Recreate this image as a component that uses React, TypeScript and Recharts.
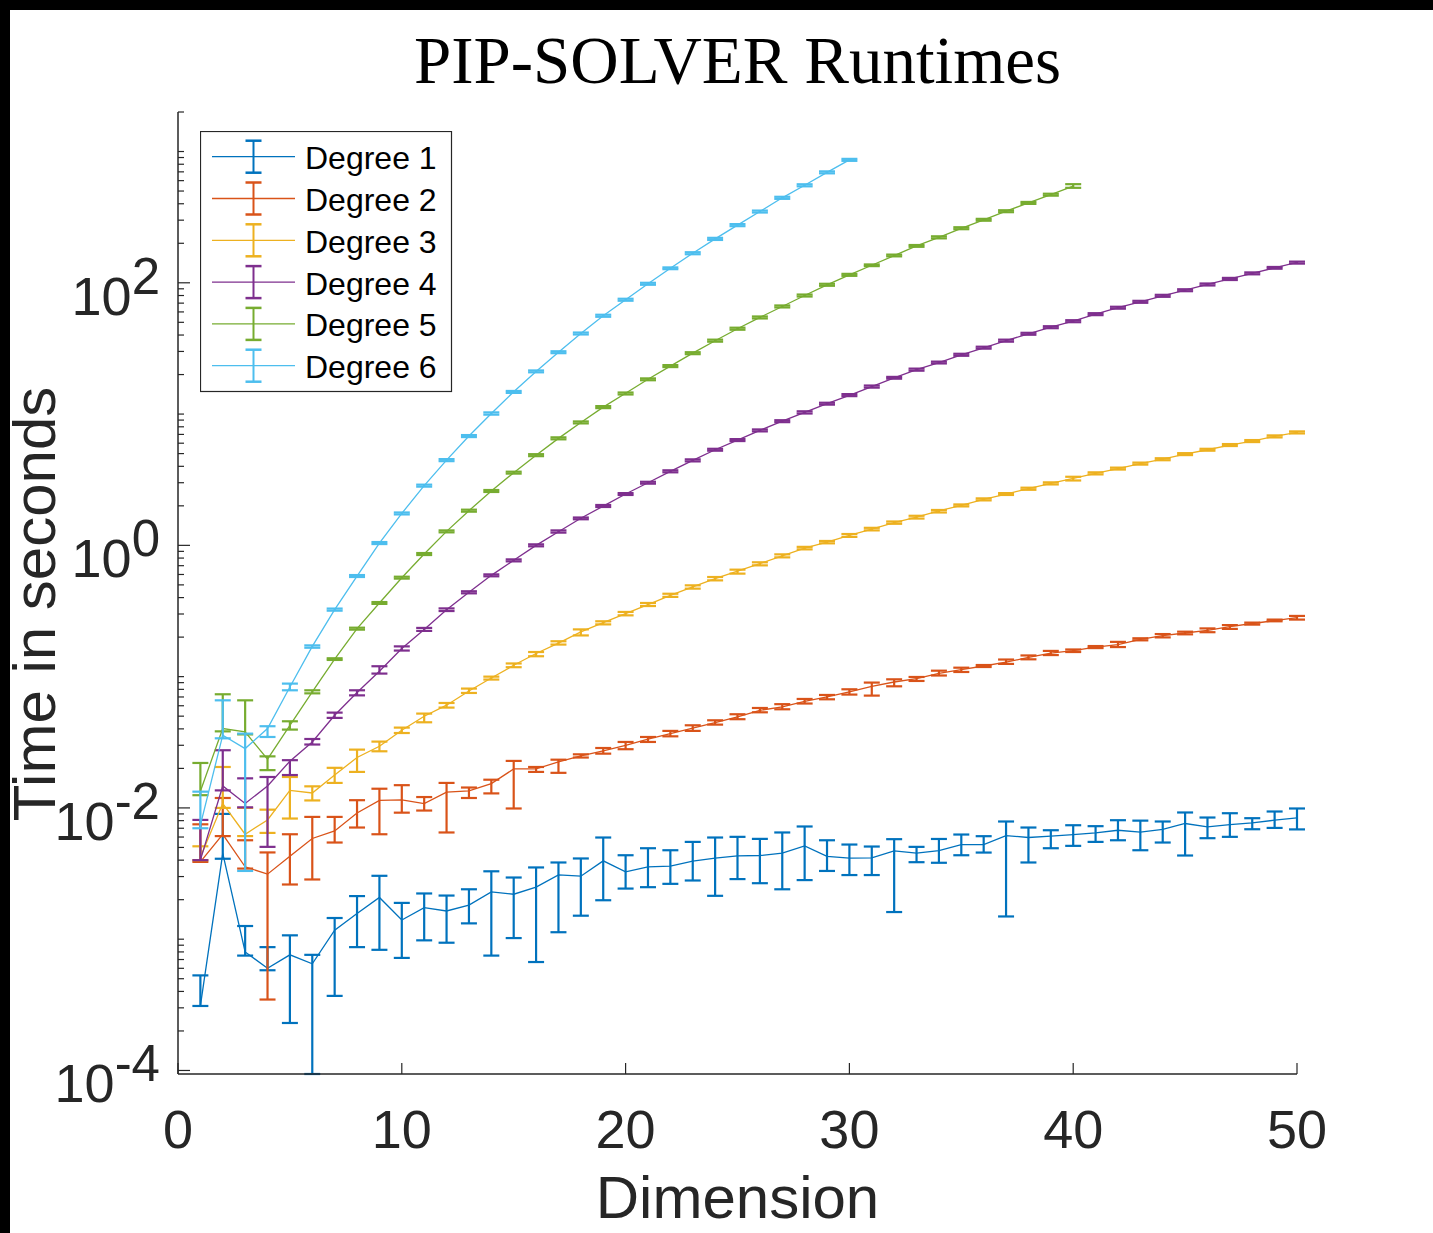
import { LineChart, Line, XAxis, YAxis, ErrorBar, Legend, Customized } from 'recharts'

// dimensions 1..50
const dims = Array.from({ length: 50 }, (_, i) => i + 1)

// runtimes in seconds (mean, lower end, upper end of each bar)
const deg1Mean = [3.1e-4, 4.5e-3, 8.0e-4, 6.0e-4, 7.6e-4, 6.5e-4, 1.17e-3, 1.57e-3, 2.08e-3, 1.40e-3,
  1.74e-3, 1.64e-3, 1.82e-3, 2.29e-3, 2.20e-3, 2.49e-3, 3.09e-3, 3.02e-3, 3.95e-3, 3.26e-3,
  3.56e-3, 3.60e-3, 3.93e-3, 4.14e-3, 4.31e-3, 4.34e-3, 4.52e-3, 5.14e-3, 4.27e-3, 4.14e-3,
  4.16e-3, 4.70e-3, 4.52e-3, 4.72e-3, 5.26e-3, 5.26e-3, 6.16e-3, 5.95e-3, 6.09e-3, 6.27e-3,
  6.45e-3, 6.76e-3, 6.53e-3, 6.85e-3, 7.61e-3, 7.17e-3, 7.47e-3, 7.69e-3, 8.06e-3, 8.39e-3]
const deg1Lo = [3.1e-4, 4.1e-3, 7.5e-4, 5.8e-4, 2.3e-4, 9.4e-5, 3.7e-4, 8.7e-4, 8.3e-4, 7.2e-4,
  9.8e-4, 9.4e-4, 1.32e-3, 7.5e-4, 1.02e-3, 6.7e-4, 1.13e-3, 1.51e-3, 1.98e-3, 2.43e-3,
  2.49e-3, 2.64e-3, 2.80e-3, 2.14e-3, 2.87e-3, 2.67e-3, 2.40e-3, 2.82e-3, 3.31e-3, 3.08e-3,
  3.08e-3, 1.61e-3, 3.86e-3, 3.82e-3, 4.36e-3, 4.57e-3, 1.49e-3, 3.84e-3, 4.93e-3, 5.14e-3,
  5.51e-3, 5.67e-3, 4.76e-3, 5.45e-3, 4.34e-3, 5.88e-3, 6.02e-3, 6.88e-3, 7.04e-3, 6.86e-3]
const deg1Hi = [5.3e-4, 9.0e-3, 1.26e-3, 8.7e-4, 1.07e-3, 7.6e-4, 1.45e-3, 2.13e-3, 3.04e-3, 1.89e-3,
  2.23e-3, 2.15e-3, 2.40e-3, 3.29e-3, 2.95e-3, 3.52e-3, 3.84e-3, 4.12e-3, 5.95e-3, 4.36e-3,
  4.93e-3, 4.76e-3, 5.51e-3, 5.95e-3, 6.02e-3, 5.81e-3, 6.50e-3, 7.22e-3, 5.67e-3, 5.26e-3,
  5.08e-3, 5.78e-3, 5.05e-3, 5.80e-3, 6.27e-3, 6.09e-3, 7.88e-3, 7.09e-3, 6.76e-3, 7.38e-3,
  7.26e-3, 8.06e-3, 8.0e-3, 7.88e-3, 9.23e-3, 8.45e-3, 9.11e-3, 8.35e-3, 9.39e-3, 9.9e-3]

const deg2Mean = [3.88e-3, 6.3e-3, 3.56e-3, 3.13e-3, 4.29e-3, 5.85e-3, 6.68e-3, 9.16e-3, 1.14e-2, 1.15e-2,
  1.08e-2, 1.32e-2, 1.35e-2, 1.53e-2, 1.98e-2, 1.98e-2, 2.24e-2, 2.49e-2, 2.72e-2, 3.00e-2,
  3.34e-2, 3.68e-2, 4.06e-2, 4.47e-2, 4.93e-2, 5.54e-2, 5.88e-2, 6.49e-2, 7.00e-2, 7.64e-2,
  8.44e-2, 9.10e-2, 9.66e-2, 0.106, 0.113, 0.1205, 0.129, 0.140, 0.151, 0.158,
  0.168, 0.175, 0.1925, 0.205, 0.215, 0.225, 0.240, 0.254, 0.267, 0.282]
const deg2Lo = [3.88e-3, 6.1e-3, 3.45e-3, 3.47e-4, 2.61e-3, 2.85e-3, 5.45e-3, 7.09e-3, 6.3e-3, 9.2e-3,
  9.55e-3, 6.5e-3, 1.19e-2, 1.29e-2, 9.9e-3, 1.88e-2, 1.85e-2, 2.42e-2, 2.59e-2, 2.80e-2,
  3.18e-2, 3.51e-2, 3.86e-2, 4.31e-2, 4.74e-2, 5.35e-2, 5.64e-2, 6.24e-2, 6.72e-2, 7.30e-2,
  7.17e-2, 8.44e-2, 9.27e-2, 0.102, 0.1085, 0.1184, 0.125, 0.1355, 0.146, 0.154,
  0.165, 0.168, 0.189, 0.199, 0.210, 0.218, 0.231, 0.249, 0.264, 0.272]
const deg2Hi = [7.5e-3, 1.19e-2, 5.67e-3, 4.58e-3, 6.3e-3, 8.54e-3, 8.54e-3, 1.145e-2, 1.40e-2, 1.49e-2,
  1.21e-2, 1.55e-2, 1.43e-2, 1.64e-2, 2.28e-2, 2.05e-2, 2.33e-2, 2.56e-2, 2.86e-2, 3.18e-2,
  3.47e-2, 3.86e-2, 4.26e-2, 4.65e-2, 5.17e-2, 5.77e-2, 6.17e-2, 6.76e-2, 7.25e-2, 8.01e-2,
  9.01e-2, 9.54e-2, 9.94e-2, 0.111, 0.117, 0.1226, 0.135, 0.145, 0.157, 0.161,
  0.171, 0.184, 0.196, 0.211, 0.220, 0.233, 0.247, 0.258, 0.272, 0.290]

const deg3Mean = [4.2e-3, 1.08e-2, 6.3e-3, 8.1e-3, 1.36e-2, 1.30e-2, 1.78e-2, 2.42e-2, 2.95e-2, 3.90e-2,
  4.99e-2, 6.06e-2, 7.78e-2, 9.77e-2, 0.122, 0.150, 0.180, 0.219, 0.258, 0.302,
  0.354, 0.416, 0.482, 0.558, 0.637, 0.726, 0.832, 0.954, 1.06, 1.19,
  1.33, 1.49, 1.64, 1.83, 2.02, 2.24, 2.46, 2.70, 2.97, 3.24,
  3.54, 3.84, 4.19, 4.53, 4.95, 5.35, 5.81, 6.23, 6.76, 7.25]
const deg3Lo = [4.0e-3, 1.0e-2, 6.1e-3, 6.45e-3, 8.3e-3, 1.14e-2, 1.55e-2, 1.88e-2, 2.70e-2, 3.72e-2,
  4.49e-2, 5.81e-2, 7.51e-2, 9.5e-2, 0.118, 0.143, 0.1755, 0.206, 0.250, 0.293,
  0.345, 0.405, 0.468, 0.541, 0.609, 0.704, 0.810, 0.932, 1.036, 1.16,
  1.30, 1.46, 1.60, 1.78, 1.98, 2.20, 2.42, 2.65, 2.91, 3.12,
  3.47, 3.78, 4.12, 4.45, 4.87, 5.26, 5.71, 6.12, 6.64, 7.12]
const deg3Hi = [5.1e-3, 2.05e-2, 1.0e-2, 9.7e-3, 1.72e-2, 1.46e-2, 2.02e-2, 2.78e-2, 3.20e-2, 4.09e-2,
  5.23e-2, 6.30e-2, 8.11e-2, 0.100, 0.126, 0.154, 0.186, 0.229, 0.264, 0.311,
  0.364, 0.428, 0.496, 0.574, 0.653, 0.743, 0.854, 0.974, 1.08, 1.22,
  1.36, 1.52, 1.68, 1.86, 2.05, 2.28, 2.50, 2.75, 3.02, 3.33,
  3.60, 3.91, 4.27, 4.61, 5.04, 5.44, 5.91, 6.34, 6.88, 7.38]

const deg4Mean = [4.0e-3, 1.47e-2, 1.08e-2, 1.47e-2, 2.27e-2, 3.18e-2, 5.08e-2, 7.56e-2, 0.110, 0.164,
  0.229, 0.323, 0.439, 0.591, 0.769, 1.0, 1.27, 1.61, 1.99, 2.46,
  3.00, 3.66, 4.44, 5.35, 6.34, 7.51, 8.83, 10.3, 12.0, 13.9,
  16.2, 18.9, 21.8, 24.7, 28.3, 32.0, 36.2, 40.9, 45.9, 51.0,
  57.7, 64.6, 71.6, 79.6, 87.8, 97.1, 107, 118, 130, 143]
const deg4Lo = [4.0e-3, 1.36e-2, 1.01e-2, 5.05e-3, 1.78e-2, 3.04e-2, 4.85e-2, 7.2e-2, 0.1055, 0.158,
  0.223, 0.316, 0.431, 0.581, 0.755, 0.983, 1.25, 1.58, 1.96, 2.42,
  2.95, 3.60, 4.36, 5.26, 6.23, 7.38, 8.68, 10.1, 11.8, 13.7,
  15.9, 18.6, 21.4, 24.3, 27.8, 31.5, 35.6, 40.2, 45.1, 50.1,
  56.7, 63.5, 70.4, 78.2, 86.3, 95.4, 105, 116, 128, 140]
const deg4Hi = [8.1e-3, 2.75e-2, 1.68e-2, 1.72e-2, 2.31e-2, 3.35e-2, 5.32e-2, 7.87e-2, 0.120, 0.170,
  0.235, 0.331, 0.447, 0.601, 0.782, 1.018, 1.30, 1.63, 2.03, 2.50,
  3.05, 3.73, 4.52, 5.44, 6.45, 7.64, 8.98, 10.5, 12.2, 14.2,
  16.5, 19.2, 22.2, 25.1, 28.8, 32.6, 36.9, 41.6, 46.7, 51.9,
  58.7, 65.7, 72.9, 81.0, 89.3, 98.8, 109, 120, 132, 145]

const deg5Mean = [1.34e-2, 4.02e-2, 3.79e-2, 2.35e-2, 4.26e-2, 7.64e-2, 0.136, 0.232, 0.364, 0.567,
  0.859, 1.278, 1.837, 2.59, 3.58, 4.86, 6.53, 8.64, 11.3, 14.4,
  18.4, 23.2, 29.1, 36.2, 44.7, 54.5, 66.0, 80.0, 96.5, 115,
  136, 161, 191, 222, 260, 302, 351, 406, 469, 546]
const deg5Lo = [1.25e-2, 3.83e-2, 3.63e-2, 1.94e-2, 3.95e-2, 7.46e-2, 0.134, 0.228, 0.358, 0.558,
  0.844, 1.256, 1.805, 2.55, 3.52, 4.78, 6.42, 8.49, 11.1, 14.1,
  18.1, 22.8, 28.6, 35.6, 43.9, 53.5, 64.9, 78.6, 94.9, 113,
  134, 159, 188, 218, 256, 297, 345, 399, 461, 529]
const deg5Hi = [2.20e-2, 7.34e-2, 6.6e-2, 2.47e-2, 4.57e-2, 7.87e-2, 0.138, 0.236, 0.370, 0.577,
  0.874, 1.30, 1.87, 2.64, 3.64, 4.95, 6.65, 8.79, 11.5, 14.6,
  18.7, 23.6, 29.6, 36.9, 45.5, 55.4, 67.2, 81.4, 98.3, 117,
  138, 164, 194, 226, 265, 307, 357, 413, 477, 564]

const deg6Mean = [7.4e-3, 3.58e-2, 2.83e-2, 4.02e-2, 8.34e-2, 0.170, 0.324, 0.584, 1.041, 1.752,
  2.85, 4.46, 6.80, 10.1, 14.8, 21.1, 29.6, 41.1, 56.1, 74.3,
  98.3, 129, 168, 216, 275, 349, 444, 553, 694, 864]
const deg6Lo = [7.0e-3, 3.39e-2, 3.31e-3, 3.47e-2, 7.87e-2, 0.166, 0.318, 0.574, 1.023, 1.72,
  2.80, 4.38, 6.68, 9.9, 14.5, 20.8, 29.1, 40.4, 55.1, 73.0,
  96.6, 127, 165, 212, 270, 343, 436, 543, 682, 849]
const deg6Hi = [1.33e-2, 6.6e-2, 3.68e-2, 4.19e-2, 8.85e-2, 0.173, 0.330, 0.594, 1.06, 1.78,
  2.90, 4.54, 6.92, 10.3, 15.0, 21.5, 30.1, 41.8, 57.1, 75.6,
  100, 131, 171, 220, 280, 355, 452, 563, 706, 879]

const xTicks = [0, 10, 20, 30, 40, 50]
const yMajor = [1e-4, 1e-2, 1, 100]
const yMajorExp = ['-4', '-2', '0', '2']
const yOddDecades = [1e-3, 0.1, 10, 1000]
const decades = [1e-4, 1e-3, 1e-2, 0.1, 1, 10, 100, 1000]
const minorSteps = [2, 3, 4, 5, 6, 7, 8, 9]

const series = [
  { name: 'Degree 1', color: '#0072BD', mean: deg1Mean, lo: deg1Lo, hi: deg1Hi },
  { name: 'Degree 2', color: '#D95319', mean: deg2Mean, lo: deg2Lo, hi: deg2Hi },
  { name: 'Degree 3', color: '#EDB120', mean: deg3Mean, lo: deg3Lo, hi: deg3Hi },
  { name: 'Degree 4', color: '#7E2F8E', mean: deg4Mean, lo: deg4Lo, hi: deg4Hi },
  { name: 'Degree 5', color: '#77AC30', mean: deg5Mean, lo: deg5Lo, hi: deg5Hi },
  { name: 'Degree 6', color: '#4DBEEE', mean: deg6Mean, lo: deg6Lo, hi: deg6Hi },
]

const rows = dims.map((x, i) => {
  const row: any = { x }
  series.forEach((s, k) => {
    if (i < s.mean.length) {
      row[`m${k}`] = s.mean[i]
      row[`e${k}`] = [s.mean[i] - s.lo[i], s.hi[i] - s.mean[i]]
    }
  })
  return row
})

const yMinor = decades.flatMap(d => minorSteps.map(m => d * m)).filter(v => v <= 2000)
const yTicks = [...yMajor, ...yOddDecades, ...yMinor]

const W = 1433
const H = 1233
const PLOT_LEFT = 178
const PLOT_RIGHT = 1297
const PLOT_TOP = 112
const PLOT_BOTTOM = 1074
const AXIS = '#262626'
const SANS = '"Liberation Sans", Arial, Helvetica, sans-serif'
const SERIF = '"Liberation Serif", "Times New Roman", serif'

const YTick = ({ y, payload }: any) => {
  const idx = yMajor.indexOf(payload.value)
  const major = idx >= 0
  return (
    <g>
      <line x1={PLOT_LEFT} x2={PLOT_LEFT + (major ? 12 : 6)} y1={y} y2={y} stroke={AXIS} strokeWidth={1.2} />
      {major && (
        <text x={160} y={y + 32} textAnchor="end" fill={AXIS} fontSize={54} fontFamily={SANS}>
          10<tspan dy={-21} fontSize={51}>{yMajorExp[idx]}</tspan>
        </text>
      )}
    </g>
  )
}

const XTick = ({ x, payload }: any) => (
  <g>
    <line x1={x} x2={x} y1={PLOT_BOTTOM} y2={PLOT_BOTTOM - 11} stroke={AXIS} strokeWidth={1.2} />
    <text x={x} y={1148} textAnchor="middle" fill={AXIS} fontSize={54} fontFamily={SANS}>
      {payload.value}
    </text>
  </g>
)

const Texts = () => (
  <g>
    <text x={(PLOT_LEFT + PLOT_RIGHT) / 2} y={83} textAnchor="middle" fill="#000" fontSize={67} fontFamily={SERIF}>
      PIP-SOLVER Runtimes
    </text>
    <text x={(PLOT_LEFT + PLOT_RIGHT) / 2} y={1218} textAnchor="middle" fill={AXIS} fontSize={60} fontFamily={SANS}>
      Dimension
    </text>
    <text x={55} y={604} transform="rotate(-90 55 604)" textAnchor="middle" fill={AXIS} fontSize={60} fontFamily={SANS}>
      Time in seconds
    </text>
  </g>
)

const LegendBox = () => (
  <svg width={253} height={262} style={{ display: 'block' }}>
    <rect x={0.5} y={0.5} width={251} height={260} fill="#fff" stroke={AXIS} strokeWidth={1.2} />
    {series.map((s, k) => {
      const cy = 25.7 + k * 41.8
      return (
        <g key={s.name}>
          <line x1={12} x2={95} y1={cy} y2={cy} stroke={s.color} strokeWidth={1.3} />
          <line x1={53.5} x2={53.5} y1={cy - 16} y2={cy + 16} stroke={s.color} strokeWidth={2} />
          <line x1={45.5} x2={61.5} y1={cy - 16} y2={cy - 16} stroke={s.color} strokeWidth={2.5} />
          <line x1={45.5} x2={61.5} y1={cy + 16} y2={cy + 16} stroke={s.color} strokeWidth={2.5} />
          <text x={105} y={cy + 12.5} fill="#000" fontSize={32} fontFamily={SANS}>{s.name}</text>
        </g>
      )
    })}
  </svg>
)

export default function App() {
  return (
    <div style={{ position: 'absolute', left: 0, top: 0, width: W, height: H, background: '#fff', overflow: 'hidden' }}>
      <LineChart width={W} height={H} data={rows} margin={{ top: PLOT_TOP, right: W - PLOT_RIGHT, bottom: 0, left: 0 }}>
        <XAxis
          type="number"
          dataKey="x"
          domain={[0, 50]}
          ticks={xTicks}
          interval={0}
          allowDataOverflow
          height={H - PLOT_BOTTOM}
          axisLine={{ stroke: AXIS, strokeWidth: 1.5 }}
          tickLine={false}
          tick={<XTick />}
        />
        <YAxis
          type="number"
          scale="log"
          domain={[9.4e-5, 2000]}
          allowDataOverflow
          ticks={yTicks}
          interval={0}
          width={PLOT_LEFT}
          axisLine={{ stroke: AXIS, strokeWidth: 1.5 }}
          tickLine={false}
          tick={<YTick />}
        />
        {series.map((s, k) => (
          <Line
            key={s.name}
            name={s.name}
            dataKey={`m${k}`}
            type="linear"
            stroke={s.color}
            strokeWidth={1.3}
            dot={false}
            activeDot={false}
            isAnimationActive={false}
          >
            <ErrorBar dataKey={`e${k}`} direction="y" width={8} strokeWidth={2.2} stroke={s.color} isAnimationActive={false} />
          </Line>
        ))}
        <Legend
          layout="vertical"
          verticalAlign="middle"
          align="center"
          content={<LegendBox />}
          wrapperStyle={{ position: 'absolute', left: 200, top: 131, width: 253, height: 262 }}
        />
        <Customized component={<Texts />} />
      </LineChart>
      <div style={{ position: 'absolute', left: 0, top: 0, width: W, height: 10, background: '#000' }} />
      <div style={{ position: 'absolute', left: 0, top: 0, width: 10, height: H, background: '#000' }} />
    </div>
  )
}
